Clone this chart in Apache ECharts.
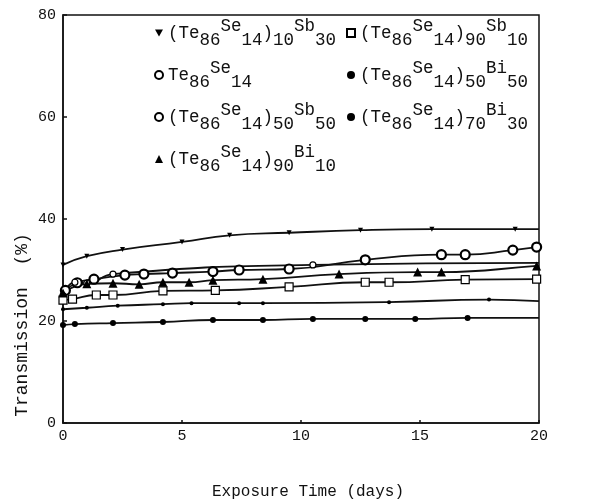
<!DOCTYPE html>
<html><head><meta charset="utf-8">
<script src="https://cdn.jsdelivr.net/npm/echarts@6/dist/echarts.min.js"></script>
<style>html,body{margin:0;padding:0;background:#fff}#c{width:590px;height:504px}</style>
</head><body><div id="c"></div>
<script>
// ---- data ----
const xTicks = [0, 5, 10, 15, 20];
const yTicks = [0, 20, 40, 60, 80];

const nameA = '(Te86Se14)10Sb30';
const daysA = [0, 1, 2.5, 5, 7, 9.5, 12.5, 15.5, 19];
const valsA = [31, 32.7, 34, 35.5, 36.8, 37.3, 37.8, 38, 38];
const endA = 38;

const nameB = 'Te86Se14';
const daysB = [0.1, 0.6, 1.3, 2.6, 3.4, 4.6, 6.3, 7.4, 9.5, 12.7, 15.9, 16.9, 18.9, 19.9];
const valsB = [26, 27.5, 28.2, 29, 29.2, 29.4, 29.7, 30, 30.2, 32, 33, 33, 33.9, 34.5];
const endB = 34.6;

const nameC = '(Te86Se14)50Sb50';
const daysC = [0, 0.5, 1, 2.1, 10.5];
const valsC = [25, 27.6, 27.4, 29.2, 31];
const endC = 31.4;

const nameD = '(Te86Se14)90Sb10';
const daysD = [0, 0.4, 1.4, 2.1, 4.2, 6.4, 9.5, 12.7, 13.7, 16.9, 19.9];
const valsD = [24.1, 24.3, 25.1, 25.1, 25.9, 26, 26.7, 27.6, 27.6, 28.1, 28.2];
const endD = 28.2;

const nameE = '(Te86Se14)50Bi50';
const daysE = [0, 1, 2.3, 4.2, 5.4, 7.4, 8.4, 13.7, 17.9];
const valsE = [22.3, 22.6, 23, 23.3, 23.5, 23.5, 23.5, 23.7, 24.2];
const endE = 23.9;

const nameF = '(Te86Se14)70Bi30';
const daysF = [0, 0.5, 2.1, 4.2, 6.3, 8.4, 10.5, 12.7, 14.8, 17];
const valsF = [19.2, 19.4, 19.6, 19.8, 20.2, 20.2, 20.4, 20.4, 20.4, 20.6];
const endF = 20.6;

const nameG = '(Te86Se14)90Bi10';
const daysG = [0, 1, 2.1, 3.2, 4.2, 5.3, 6.3, 8.4, 11.6, 14.9, 15.9, 19.9];
const valsG = [25.5, 27.3, 27.4, 27.2, 27.6, 27.6, 28, 28.2, 29.2, 29.6, 29.6, 30.8];
const endG = 30.9;

// ---- build chart ----
const MONO = '"Liberation Mono", "DejaVu Sans Mono", monospace';
const pts = (d, v) => d.map((x, i) => [x, v[i]]);
const curve = (d, v, e) => pts(d, v).concat([[20, e]]);

const sets = [
  {name: nameA, d: daysA, v: valsA, e: endA, symbol: 'triangle', size: 5, rot: 180, fill: '#000', bw: 0},
  {name: nameB, d: daysB, v: valsB, e: endB, symbol: 'circle', size: 9, rot: 0, fill: '#fff', bw: 2.2},
  {name: nameC, d: daysC, v: valsC, e: endC, symbol: 'circle', size: 6, rot: 0, fill: '#fff', bw: 1.2},
  {name: nameD, d: daysD, v: valsD, e: endD, symbol: 'rect', size: 8, rot: 0, fill: '#fff', bw: 1.2},
  {name: nameE, d: daysE, v: valsE, e: endE, symbol: 'circle', size: 4, rot: 0, fill: '#000', bw: 0},
  {name: nameF, d: daysF, v: valsF, e: endF, symbol: 'circle', size: 6, rot: 0, fill: '#000', bw: 0},
  {name: nameG, d: daysG, v: valsG, e: endG, symbol: 'triangle', size: 9, rot: 0, fill: '#000', bw: 0}
];

const series = [];
sets.forEach(s => {
  series.push({
    type: 'line', name: s.name + ' curve', data: curve(s.d, s.v, s.e),
    smooth: 0.5, showSymbol: false, symbol: 'none', z: 2,
    lineStyle: {color: '#111', width: 1.8}, silent: true
  });
});
sets.forEach(s => {
  series.push({
    type: 'scatter', name: s.name, data: pts(s.d, s.v),
    symbol: s.symbol, symbolSize: s.size, symbolRotate: s.rot, z: 5,
    itemStyle: {color: s.fill, borderColor: '#000', borderWidth: s.bw, opacity: 1}
  });
});

function richName(name) {
  return name.match(/\(|\)|Te|Se|Sb|Bi|\d+/g).map(t => {
    if (/^\d+$/.test(t)) return '{d|' + t + '}';
    if (t === 'Se') return '{u|' + t + '}';
    if (t === 'Sb' || t === 'Bi') return '{v|' + t + '}';
    return '{n|' + t + '}';
  }).join('');
}
const rich = {
  n: {fontFamily: MONO, fontSize: 17.5, color: '#111', lineHeight: 32, verticalAlign: 'middle'},
  d: {fontFamily: MONO, fontSize: 17.5, color: '#111', lineHeight: 22, verticalAlign: 'bottom'},
  u: {fontFamily: MONO, fontSize: 17.5, color: '#111', lineHeight: 29, verticalAlign: 'top'},
  v: {fontFamily: MONO, fontSize: 17.5, color: '#111', lineHeight: 27, verticalAlign: 'top'}
};
const legendBase = {
  orient: 'vertical', itemWidth: 8, itemHeight: 8, itemGap: 10,
  formatter: richName, selectedMode: false,
  textStyle: {rich: rich, fontFamily: MONO, fontSize: 17.5, color: '#111'}
};

const chart = echarts.init(document.getElementById('c'), null, {renderer: 'canvas'});
chart.setOption({
  animation: false,
  backgroundColor: '#fff',
  grid: {left: 63, right: 51, top: 15, bottom: 81, show: true, borderColor: '#111', borderWidth: 1.5, backgroundColor: 'transparent'},
  xAxis: {
    type: 'value', min: xTicks[0], max: xTicks[xTicks.length - 1], interval: 5,
    axisLine: {show: true, lineStyle: {color: '#111', width: 1.5}},
    axisTick: {show: true, inside: true, length: 3, lineStyle: {color: '#111', width: 1.5}},
    splitLine: {show: false},
    axisLabel: {color: '#111', fontFamily: MONO, fontSize: 15, margin: 6}
  },
  yAxis: {
    type: 'value', min: yTicks[0], max: yTicks[yTicks.length - 1], interval: 20,
    axisLine: {show: true, lineStyle: {color: '#111', width: 1.5}},
    axisTick: {show: true, inside: true, length: 4, lineStyle: {color: '#111', width: 1.5}},
    splitLine: {show: false},
    axisLabel: {color: '#111', fontFamily: MONO, fontSize: 15, margin: 7}
  },
  legend: [
    Object.assign({}, legendBase, {left: 149, top: 12, data: [
      {name: nameA, icon: 'path://M0,0L10,0L5,9Z'}, nameB, nameC, nameG]}),
    Object.assign({}, legendBase, {left: 341, top: 12, data: [nameD, nameE, nameF]})
  ],
  graphic: [
    {type: 'text', x: 22, y: 325, rotation: Math.PI / 2,
     style: {text: 'Transmission  (%)', font: '18px ' + MONO, fill: '#111', textAlign: 'center', textVerticalAlign: 'middle'}},
    {type: 'text', x: 308, y: 492,
     style: {text: 'Exposure Time (days)', font: '16px ' + MONO, fill: '#111', textAlign: 'center', textVerticalAlign: 'middle'}}
  ],
  series: series
});
</script>
</body></html>
